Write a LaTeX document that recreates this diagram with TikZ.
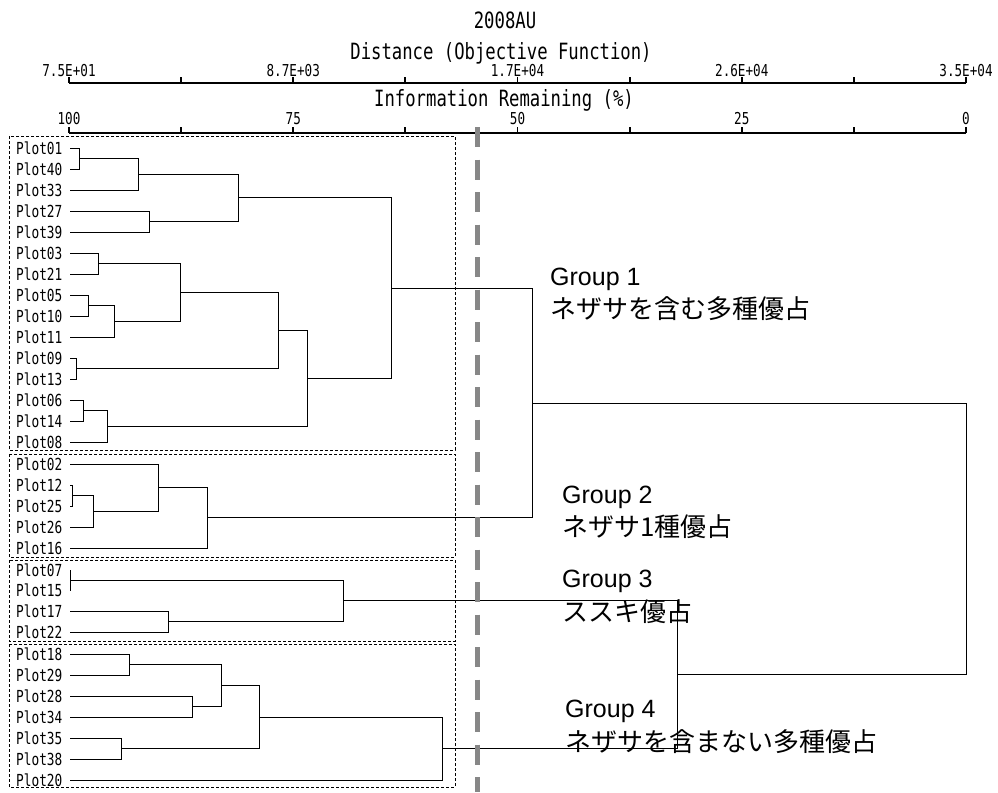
\documentclass[tikz,border=0pt]{standalone}
\usepackage{fontspec}
\setmainfont{Liberation Sans}
\newfontfamily\goth[FakeStretch=0.77]{DejaVu Sans Mono}
\newfontfamily\jpfont{Noto Sans CJK JP}
\usetikzlibrary{calc}
\definecolor{cutgray}{RGB}{135,135,135}
\newcommand\djoin[4]{%
  \coordinate (tmp) at ($(#3)!0.5!(#4)$);
  \coordinate (#1) at (perpendicular cs: horizontal line through={(tmp)}, vertical line through={(#2,0)});
  \draw[dline] (#3) -| (#1);
  \draw[dline] (#4) -| (#1);
}
\begin{document}
\begin{tikzpicture}[x=1pt,y=-1pt,
  dline/.style={line width=0.9pt, black},
  axisline/.style={line width=2.6pt, black},
  tickmark/.style={line width=1.8pt, black},
  boxline/.style={line width=0.8pt, dash pattern=on 3pt off 2pt},
  cutline/.style={line width=5pt, draw=cutgray, dash pattern=on 20pt off 12.5pt},
  leaf/.style={anchor=west, inner sep=0pt, font=\goth\fontsize{16.6}{17}\selectfont},
  ticklab/.style={inner sep=0pt, font=\goth\fontsize{16.4}{17}\selectfont},
  titlelab/.style={inner sep=0pt, font=\goth\fontsize{22.4}{23}\selectfont},
  grp/.style={anchor=base west, inner sep=0pt, font=\fontsize{25}{26}\selectfont},
  grpjp/.style={anchor=base west, inner sep=0pt, font=\jpfont\fontsize{26}{27}\selectfont},
]
\useasboundingbox (0,0) rectangle (998,792);
\fill[white] (0,0) rectangle (998,792);

% titles
\node[titlelab] (ttl) at (505,20) {2008AU};
\node[titlelab] (dtl) at (501,53.5) {Distance (Objective Function)};
\node[titlelab] (itl) at (504,100) {Information Remaining (\%)};

% axes
\draw[axisline] (69,83) -- (966,83);
\draw[axisline] (69,133) -- (966,133);
\foreach \i in {0,...,8}{
  \draw[tickmark] ({69+112.125*\i},77) -- ({69+112.125*\i},83);
  \draw[tickmark] ({69+112.125*\i},127) -- ({69+112.125*\i},133);
}
\foreach \i/\t/\u in {0/7.5E+01/100, 2/8.7E+03/75, 4/1.7E+04/50, 6/2.6E+04/25, 8/3.5E+04/0}{
  \node[ticklab] (dl\i) at ({69+112.125*\i},71) {\t};
  \node[ticklab] (il\i) at ({69+112.125*\i},119) {\u};
}

% group boxes
\draw[boxline] (9,136) rectangle (455,450);
\draw[boxline] (9,454) rectangle (455,557);
\draw[boxline] (9,560) rectangle (455,641);
\draw[boxline] (9,644) rectangle (455,787);

% leaves
\foreach \n/\yy in {01/148,40/169,33/190,27/211,39/232,03/253,21/274,05/295,10/316,11/337,09/358,13/379,06/400,14/421,08/442,
                    02/464,12/485,25/506,26/527,16/548,
                    07/570,15/590.5,17/611,22/632,
                    18/654,29/675,28/696,34/717,35/738,38/759,20/780}{
  \node[leaf] (p\n) at (16,\yy) {Plot\n};
  \coordinate (c\n) at (70,\yy);
}

% group 1
\djoin{a1}{79}{c01}{c40}
\djoin{a2}{138}{a1}{c33}
\djoin{a3}{149}{c27}{c39}
\djoin{a4}{238}{a2}{a3}
\djoin{b1}{98}{c03}{c21}
\djoin{b2}{88}{c05}{c10}
\djoin{b3}{114}{b2}{c11}
\djoin{b4}{180}{b1}{b3}
\djoin{b5}{76}{c09}{c13}
\djoin{b6}{278}{b4}{b5}
\djoin{b7}{83}{c06}{c14}
\djoin{b8}{107}{b7}{c08}
\djoin{b9}{307}{b6}{b8}
\djoin{g1}{391}{a4}{b9}
% group 2
\djoin{d1}{72}{c12}{c25}
\djoin{d2}{93}{d1}{c26}
\djoin{d3}{158}{c02}{d2}
\djoin{g2}{207}{d3}{c16}
% group 3
\djoin{e1}{70}{c07}{c15}
\djoin{e2}{168}{c17}{c22}
\djoin{g3}{343}{e1}{e2}
% group 4
\djoin{f1}{129}{c18}{c29}
\djoin{f2}{192}{c28}{c34}
\djoin{f3}{221}{f1}{f2}
\djoin{f4}{121}{c35}{c38}
\djoin{f5}{259}{f3}{f4}
\djoin{g4}{442}{f5}{c20}
% top joins
\djoin{h1}{532}{g1}{g2}
\djoin{h2}{677}{g3}{g4}
\djoin{root}{966}{h1}{h2}

% cut line
\draw[cutline] (477,127) -- (477,792);

% group labels
\node[grp] (g1a) at (550,285) {Group 1};
\node[grpjp] (g1b) at (550,318) {ネザサを含む多種優占};
\node[grp] (g2a) at (562,503) {Group 2};
\node[grpjp] (g2b) at (562,536) {ネザサ1種優占};
\node[grp] (g3a) at (562,587) {Group 3};
\node[grpjp] (g3b) at (562,621) {ススキ優占};
\node[grp] (g4a) at (565,717) {Group 4};
\node[grpjp] (g4b) at (565,751) {ネザサを含まない多種優占};
\end{tikzpicture}
\end{document}
